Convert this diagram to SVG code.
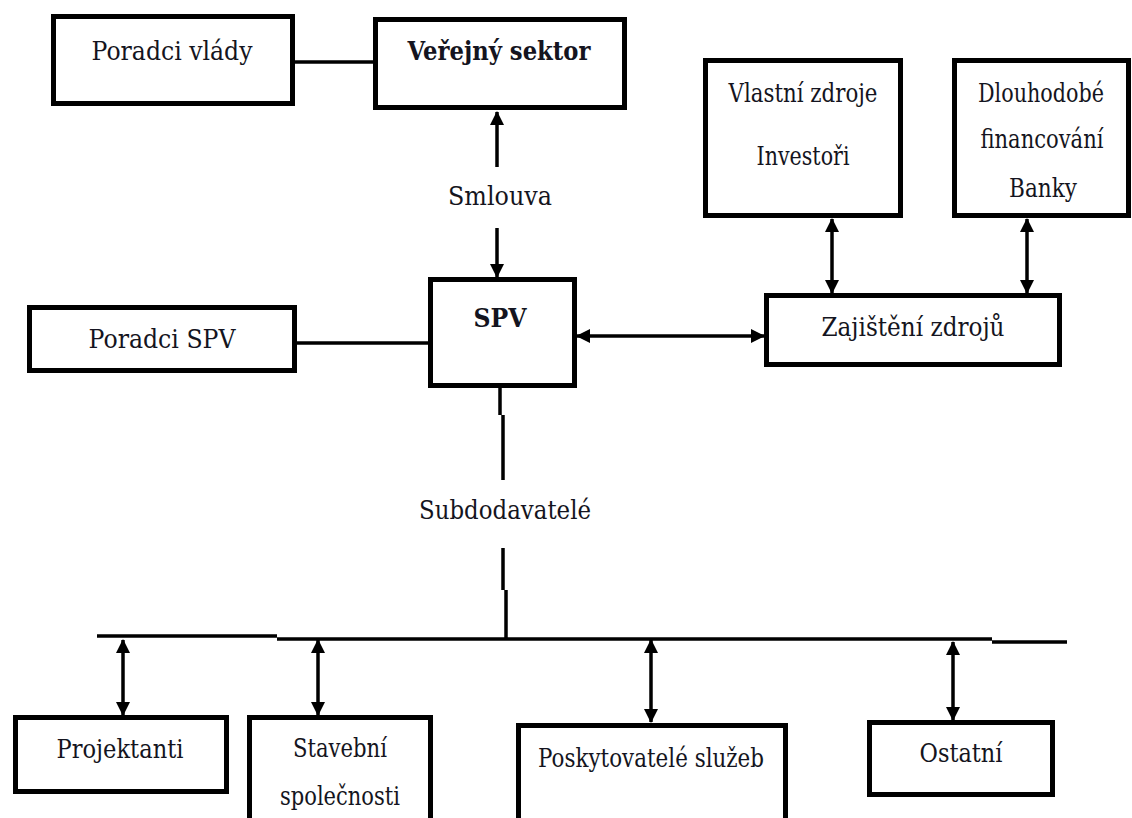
<svg xmlns="http://www.w3.org/2000/svg" width="1132" height="818" viewBox="0 0 1132 818">
<style>
.box{fill:#fff;stroke:#000;stroke-width:5}
.t{font-family:"DejaVu Serif",serif;font-size:26px;fill:#141420;text-anchor:middle}
.b{font-weight:bold}
.ln{fill:none;stroke:#000;stroke-width:3.5}
.ar{marker-end:url(#ah)}
.ar2{marker-start:url(#ah);marker-end:url(#ah)}
</style>
<defs>
<marker id="ah" markerUnits="userSpaceOnUse" markerWidth="15" markerHeight="15" refX="13" refY="7" orient="auto-start-reverse">
<path d="M0,0 L14,7 L0,14 z" fill="#000"/>
</marker>
</defs>
<rect width="1132" height="818" fill="#fff"/>
<g id="connectors">
<path class="ln" d="M295 62 H373"/>
<path class="ln ar" d="M497 167 V112"/>
<path class="ln ar" d="M497 228 V277"/>
<path class="ln" d="M297 343 H428"/>
<path class="ln ar2" d="M577 336 H764"/>
<path class="ln ar2" d="M832 219 V293"/>
<path class="ln ar2" d="M1027 219 V293"/>
<path class="ln" d="M500 388 V415 M503 415 V480"/>
<path class="ln" d="M503 548 V590 M506 590 V638"/>
<path class="ln" d="M97 636 H277 M277 639 H992 M992 642 H1067"/>
<path class="ln ar2" d="M123 640 V715"/>
<path class="ln ar2" d="M318 640 V715"/>
<path class="ln ar2" d="M651 640 V722"/>
<path class="ln ar2" d="M953 642 V720"/>
</g>
<g id="poradci-vlady"><rect class="box" x="53.5" y="16.5" width="239" height="87"/><text class="t" x="172" y="60" textLength="161" lengthAdjust="spacingAndGlyphs">Poradci vlády</text></g>
<g id="verejny-sektor"><rect class="box" x="375.5" y="19.5" width="249" height="88"/><text class="t b" x="499" y="60" textLength="183" lengthAdjust="spacingAndGlyphs">Veřejný sektor</text></g>
<g id="smlouva-label"><text class="t" x="500" y="205" textLength="104" lengthAdjust="spacingAndGlyphs">Smlouva</text></g>
<g id="spv"><rect class="box" x="430.5" y="279.5" width="144" height="106"/><text class="t b" x="500" y="327" textLength="53" lengthAdjust="spacingAndGlyphs">SPV</text></g>
<g id="poradci-spv"><rect class="box" x="29.5" y="307.5" width="265" height="63"/><text class="t" x="162" y="348" textLength="147" lengthAdjust="spacingAndGlyphs">Poradci SPV</text></g>
<g id="zajisteni-zdroju"><rect class="box" x="766.5" y="295.5" width="293" height="69"/><text class="t" x="913" y="336" textLength="183" lengthAdjust="spacingAndGlyphs">Zajištění zdrojů</text></g>
<g id="vlastni-zdroje"><rect class="box" x="705.5" y="60.5" width="195" height="155"/><text class="t" x="803" y="102" textLength="149" lengthAdjust="spacingAndGlyphs">Vlastní zdroje</text><text class="t" x="803" y="165" textLength="93" lengthAdjust="spacingAndGlyphs">Investoři</text></g>
<g id="dlouhodobe-financovani"><rect class="box" x="954.5" y="60.5" width="174" height="155"/><text class="t" x="1041" y="102" textLength="126" lengthAdjust="spacingAndGlyphs">Dlouhodobé</text><text class="t" x="1042" y="148" textLength="123" lengthAdjust="spacingAndGlyphs">financování</text><text class="t" x="1043" y="197" textLength="68" lengthAdjust="spacingAndGlyphs">Banky</text></g>
<g id="subdodavatele-label"><text class="t" x="505" y="519" textLength="172" lengthAdjust="spacingAndGlyphs">Subdodavatelé</text></g>
<g id="projektanti"><rect class="box" x="15.5" y="717.5" width="211" height="74"/><text class="t" x="120" y="758" textLength="127" lengthAdjust="spacingAndGlyphs">Projektanti</text></g>
<g id="stavebni-spolecnosti"><rect class="box" x="249.5" y="717.5" width="181" height="120"/><text class="t" x="340" y="757" textLength="94" lengthAdjust="spacingAndGlyphs">Stavební</text><text class="t" x="340" y="805" textLength="120" lengthAdjust="spacingAndGlyphs">společnosti</text></g>
<g id="poskytovatele-sluzeb"><rect class="box" x="518.5" y="725.5" width="267" height="110"/><text class="t" x="651" y="767" textLength="226" lengthAdjust="spacingAndGlyphs">Poskytovatelé služeb</text></g>
<g id="ostatni"><rect class="box" x="869.5" y="722.5" width="183" height="72"/><text class="t" x="961" y="762" textLength="83" lengthAdjust="spacingAndGlyphs">Ostatní</text></g>
</svg>
